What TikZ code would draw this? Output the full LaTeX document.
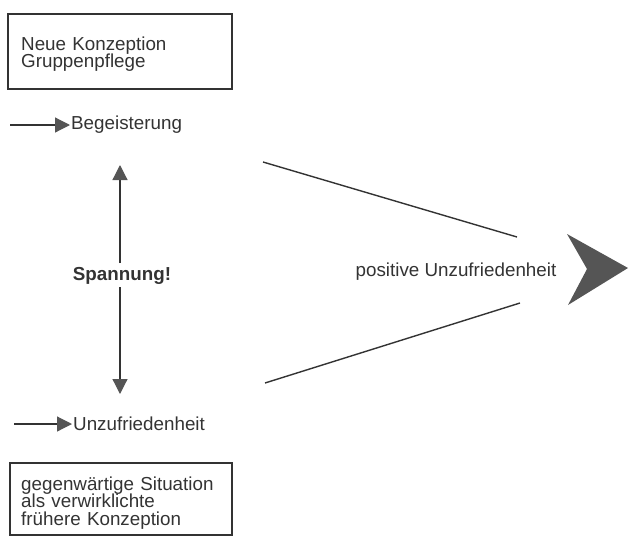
\documentclass[tikz,border=0pt]{standalone}
\usepackage{fontspec}
\setmainfont{Liberation Sans}
\usetikzlibrary{arrows.meta}
\definecolor{ink}{HTML}{333333}
\definecolor{headgray}{HTML}{555555}
\begin{document}
\begin{tikzpicture}[x=1pt,y=-1pt,
  every node/.style={font=\fontsize{18.8}{17.6}\selectfont, text=ink},
  framebox/.style={draw=ink, line width=1.1pt, inner sep=0pt},
  boxtext/.style={anchor=west, text width=205pt, align=left, inner sep=0pt},
  label/.style={anchor=west, inner sep=1pt},
  conn/.style={draw=ink, line width=1.2pt},
  smallarrow/.style={conn, -{Triangle[length=15pt,width=15pt,fill=headgray,color=headgray]}},
  bigline/.style={draw=ink, line width=1.4pt}]
\useasboundingbox (0,0) rectangle (629,536);

% top box
\node[framebox, minimum width=224pt, minimum height=75pt] (box1) at (120,51.5) {};
\node[boxtext] (t1) at (21,54) {Neue Konzeption\\Gruppenpflege};

% Begeisterung
\coordinate (b0) at (10,125);
\node[label] (beg) at (70,125) {Begeisterung};
\draw[smallarrow] (b0) -- (beg.west);

% vertical tension arrow
\coordinate (vt) at (120,165);
\coordinate (vb) at (120,394);
\node[font=\fontsize{18.8}{17.6}\selectfont\bfseries, inner sep=0pt] (sp) at (122,276) {Spannung!};
\coordinate (spn) at (120,263);
\coordinate (sps) at (120,287);
\draw[smallarrow] (spn) -- (vt);
\draw[smallarrow] (sps) -- (vb);

% Unzufriedenheit
\coordinate (u0) at (14,424);
\node[label] (unz) at (72,424) {Unzufriedenheit};
\draw[smallarrow] (u0) -- (unz.west);

% bottom box
\node[framebox, minimum width=222pt, minimum height=72pt] (box2) at (121,499) {};
\node[boxtext] (t2) at (21,503) {gegenwärtige Situation\\als verwirklichte\\frühere Konzeption};

% converging lines
\coordinate (l1a) at (263,162);
\coordinate (l1b) at (517,237);
\coordinate (l2a) at (265,383);
\coordinate (l2b) at (520,303);
\draw[bigline] (l1a) -- (l1b);
\draw[bigline] (l2a) -- (l2b);

% label
\node (pu) at (456,272) {positive Unzufriedenheit};

% big arrowhead
\coordinate (ht) at (567,234);
\coordinate (htip) at (628,268);
\coordinate (hb) at (568,305);
\coordinate (hn) at (587,269);
\fill[headgray] (ht) -- (htip) -- (hb) -- (hn) -- cycle;
\end{tikzpicture}
\end{document}
